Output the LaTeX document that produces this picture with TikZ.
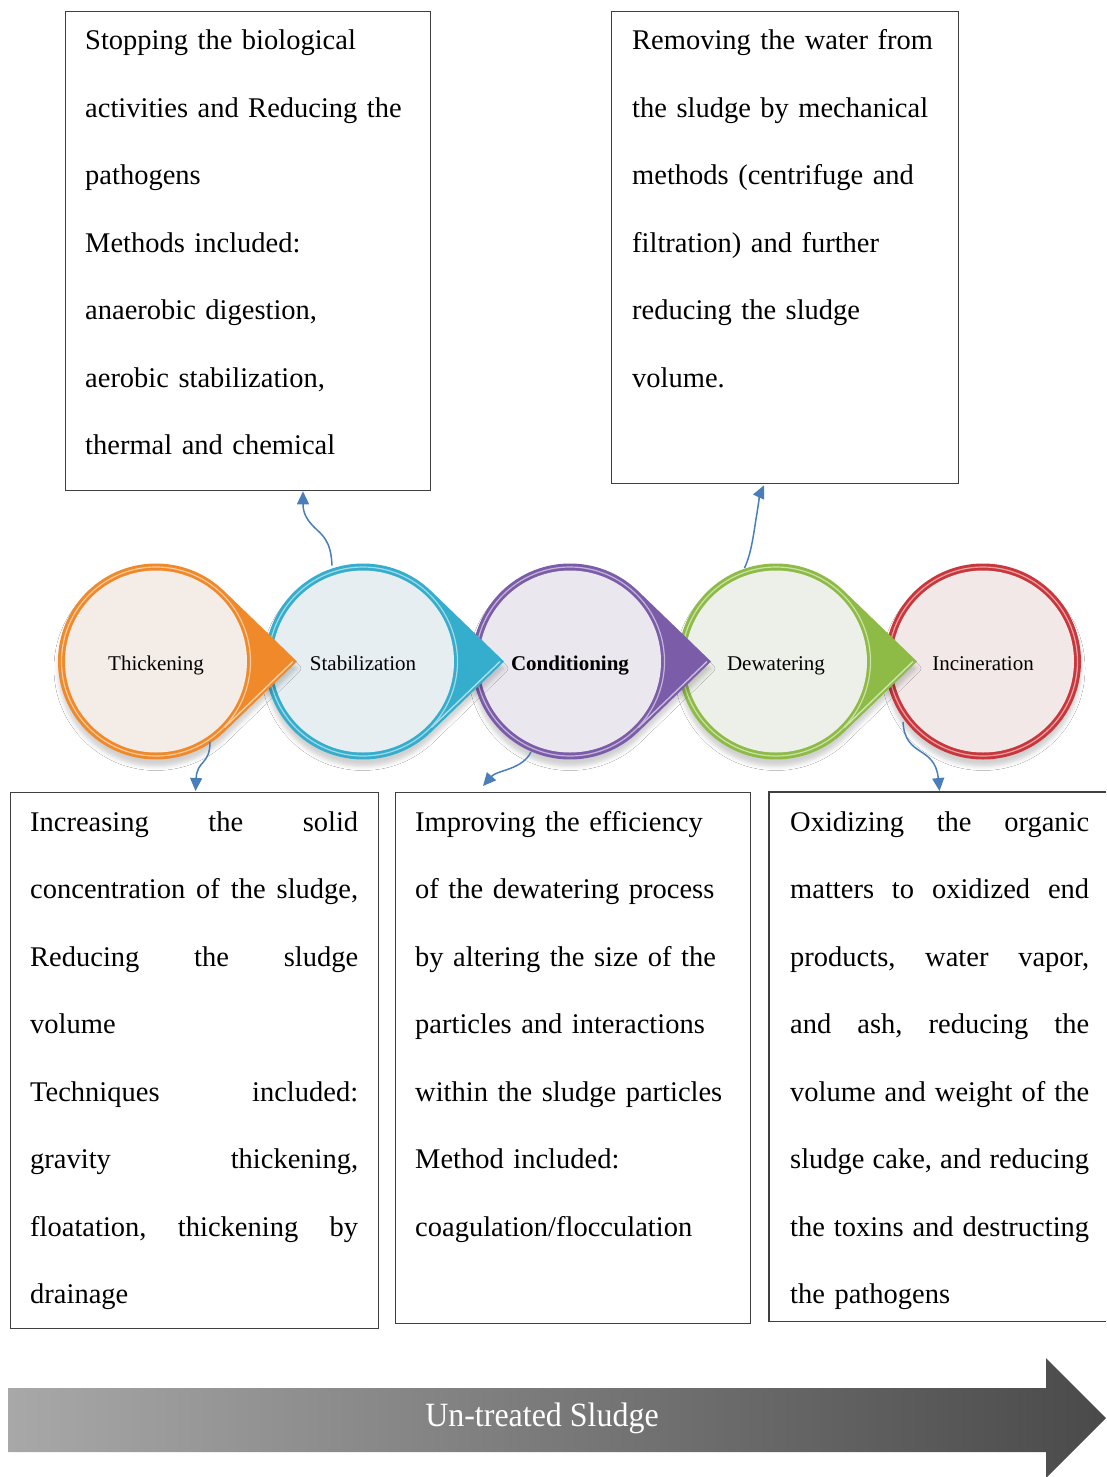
\documentclass[tikz,border=0pt]{standalone}
\usepackage{fontspec}
\setmainfont{Liberation Serif}
\usetikzlibrary{calc,arrows.meta,shadows.blur}
\definecolor{arrowblue}{HTML}{4A7EBB}
\definecolor{orR}{HTML}{F0892A}\definecolor{orF}{HTML}{F3ECE7}
\definecolor{cyR}{HTML}{35ADCC}\definecolor{cyF}{HTML}{E6EEF1}
\definecolor{puR}{HTML}{7B5CA8}\definecolor{puF}{HTML}{EAE7EF}
\definecolor{grR}{HTML}{8DBB45}\definecolor{grF}{HTML}{EDF0E9}
\definecolor{reR}{HTML}{C9363B}\definecolor{reF}{HTML}{F2E8E8}
\definecolor{gL}{HTML}{A8A8A8}\definecolor{gR}{HTML}{4A4A4A}
\definecolor{boxline}{HTML}{3F3F3F}
\newcommand\jline[2]{\leavevmode\hbox to #1{#2}}
\newcommand\jg{\hskip 7pt plus 1fill minus 5pt}
\newcommand\mytear[3]{%
  \fill[#2, blur shadow={shadow xshift=0pt,shadow yshift=-7pt,shadow blur radius=4pt,shadow opacity=18}]
    ($(#1)+(141,0)$) -- ($(#1)+(46:98)$) arc[start angle=46,end angle=314,radius=98] -- cycle;
  \draw[#2!40!white, line width=1.4pt] ($(#1)+(137,0)$) -- ($(#1)+(44:95)$);
  \fill[#3] (#1) circle[radius=91];
  \draw[#2!45!white, line width=1.2pt] (#1) circle[radius=94.5];
}
\tikzset{
  boxst/.style={draw=boxline, line width=1.3pt, anchor=north west, inner sep=0pt},
  txt/.style={anchor=base west, inner sep=0pt, align=left, font=\fontsize{28.5}{67.5}\selectfont},
  lbl/.style={inner sep=0pt, anchor=base, font=\fontsize{21}{24}\selectfont},
  conn/.style={draw=arrowblue, line width=1.5pt, -{Triangle[length=13pt,width=12pt]}},
}
\begin{document}
\begin{tikzpicture}[x=1pt,y=-1pt]
\useasboundingbox (0,0) rectangle (1106,1477);
\fill[white] (0,0) rectangle (1106,1477);

% boxes
\node[boxst, minimum width=365pt, minimum height=479pt] (b1) at (65,11) {};
\node[boxst, minimum width=347pt, minimum height=472pt] (b2) at (611,11) {};
\node[boxst, minimum width=368pt, minimum height=536pt] (b3) at (10,792) {};
\node[boxst, minimum width=355pt, minimum height=531pt] (b4) at (395,792) {};
\node[anchor=north west, inner sep=0pt, minimum width=337pt, minimum height=529pt] (b5) at (769,792) {};
\draw[draw=boxline, line width=1.3pt] (b5.north east) -- (b5.north west) -- (b5.south west) -- (b5.south east);

% box texts
\node[txt, text width=340pt] (t1) at (85,50) {Stopping the biological\\activities and Reducing the\\pathogens\\Methods included:\\anaerobic digestion,\\aerobic stabilization,\\thermal and chemical};
\node[txt, text width=325pt] (t2) at (632,50) {Removing the water from\\the sludge by mechanical\\methods (centrifuge and\\filtration) and further\\reducing the sludge\\volume.};
\node[txt, text width=330pt] (t3) at (30,831) {%
\jline{328pt}{Increasing\jg the\jg solid}\\
\jline{328pt}{concentration\jg of\jg the\jg sludge,}\\
\jline{328pt}{Reducing\jg the\jg sludge}\\
volume\\
\jline{328pt}{Techniques\jg included:}\\
\jline{328pt}{gravity\jg thickening,}\\
\jline{328pt}{floatation,\jg thickening\jg by}\\
drainage};
\node[txt, text width=330pt] (t4) at (415,831) {Improving the efficiency\\of the dewatering process\\by altering the size of the\\particles and interactions\\within the sludge particles\\Method included:\\coagulation/flocculation};
\node[txt, text width=305pt] (t5) at (790,831) {%
\jline{299pt}{Oxidizing\jg the\jg organic}\\
\jline{299pt}{matters\jg to\jg oxidized\jg end}\\
\jline{299pt}{products,\jg water\jg vapor,}\\
\jline{299pt}{and\jg ash,\jg reducing\jg the}\\
\jline{299pt}{volume\jg and\jg weight\jg of\jg the}\\
\jline{299pt}{sludge\jg cake,\jg and\jg reducing}\\
\jline{299pt}{the\jg toxins\jg and\jg destructing}\\
the pathogens};

% circle centres
\coordinate (cThk) at (156,661.5);
\coordinate (cStb) at (363,661.5);
\coordinate (cCnd) at (570,661.5);
\coordinate (cDew) at (776,661.5);
\coordinate (cInc) at (983,661.5);

% shapes, right to left
\fill[reR, blur shadow={shadow xshift=0pt,shadow yshift=-7pt,shadow blur radius=4pt,shadow opacity=18}] (cInc) circle[radius=98];
\fill[reF] (cInc) circle[radius=91];
\draw[reR!45!white, line width=1.2pt] (cInc) circle[radius=94.5];
\mytear{cDew}{grR}{grF}
\mytear{cCnd}{puR}{puF}
\mytear{cStb}{cyR}{cyF}
\mytear{cThk}{orR}{orF}

% labels
\node[lbl] (nThk) at ($(cThk)+(0,8.5)$) {Thickening};
\node[lbl] (nStb) at ($(cStb)+(0,8.5)$) {Stabilization};
\node[lbl] (nCnd) at ($(cCnd)+(0,8.5)$) {\bfseries Conditioning};
\node[lbl] (nDew) at ($(cDew)+(0,8.5)$) {Dewatering};
\node[lbl] (nInc) at ($(cInc)+(0,8.5)$) {Incineration};

% connectors
\draw[conn] ($(cStb)+(-31,-96)$) .. controls (331,540) and (322,535) .. (314,527)
   .. controls (306,519) and (303,512) .. ($(b1.south west)+(238,0)$);
\draw[conn] ($(cDew)+(-31.5,-93.5)$) .. controls (752,552) and (754,530) .. (757,513)
   .. controls (759,500) and (760,494) .. ($(b2.south west)+(153,1)$);
\draw[conn] ($(cThk)+(54,80.5)$) .. controls (210,765) and (197,760) .. ($(b3.north west)+(185.5,-1)$);
\draw[conn] ($(cCnd)+(-39,90.5)$) .. controls (522,770) and (497,770) .. ($(b4.north west)+(88,-6)$);
\draw[conn] ($(cInc)+(-80,60.5)$) .. controls (905,758) and (935,745) .. ($(b5.north west)+(170.5,-1)$);

% big arrow
\shade[left color=gL, right color=gR] (8.5,1388) -- (1046,1388) -- (1046,1358) -- (1106,1418)
   -- (1046,1478) -- (1046,1452) -- (8.5,1452) -- cycle;
\node[inner sep=0pt, text=white, font=\fontsize{34}{36}\selectfont] (ut) at (542,1418) {\scalebox{0.94}[1]{Un-treated Sludge}};
\end{tikzpicture}
\end{document}
